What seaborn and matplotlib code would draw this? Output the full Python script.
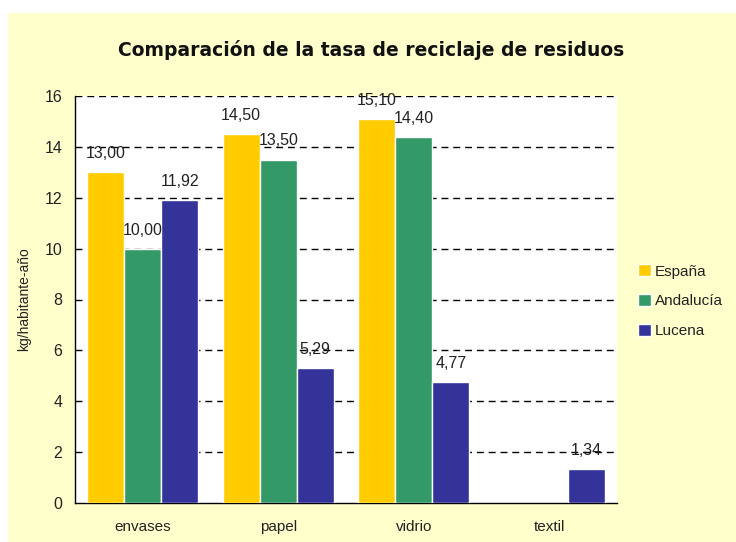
import matplotlib
matplotlib.use("Agg")
import matplotlib.pyplot as plt
import seaborn as sns
import pandas as pd
import numpy as np
from matplotlib.patches import Rectangle

categories = ["envases", "papel", "vidrio", "textil"]
series = ["España", "Andalucía", "Lucena"]
espana = [13.00, 14.50, 15.10, np.nan]
andalucia = [10.00, 13.50, 14.40, np.nan]
lucena = [11.92, 5.29, 4.77, 1.34]
colors = ["#FFCC00", "#339966", "#333399"]
yticks = [0, 2, 4, 6, 8, 10, 12, 14, 16]

rows = []
for s, vals in zip(series, [espana, andalucia, lucena]):
    for c, v in zip(categories, vals):
        rows.append({"cat": c, "serie": s, "valor": v})
df = pd.DataFrame(rows)

sns.set_theme(style="white")
plt.rcParams['font.family'] = ['Liberation Sans', 'DejaVu Sans']

fig = plt.figure(figsize=(7.36, 5.42), dpi=100)
fig.patch.set_facecolor("white")
fig.add_artist(Rectangle((8 / 736, 0), 1, 1 - 13 / 542, transform=fig.transFigure,
                         facecolor="#FFFFCC", edgecolor="none", zorder=-10))

ax = fig.add_axes([75 / 736, 1 - 503 / 542, (617 - 75) / 736, (503 - 96) / 542])
ax.set_facecolor("white")

sns.barplot(data=df, x="cat", y="valor", hue="serie", order=categories, hue_order=series,
            palette=colors, saturation=1, width=0.82, edgecolor="white", linewidth=1.0,
            errorbar=None, ax=ax, zorder=3)

ax.set_ylim(0, 16)
ax.set_xlim(-0.5, 3.5)
ax.set_yticks(yticks)
ax.set_yticklabels([str(t) for t in yticks], fontsize=11.5, color="#222222")
for y in yticks[1:]:
    ax.axhline(y, color="black", linestyle=(0, (5, 3.5)), linewidth=1.0, zorder=1)

ax.set_xticks([0, 1, 2, 3])
ax.set_xticklabels(categories, fontsize=11, color="#222222")
ax.tick_params(axis="x", length=0, pad=12)
ax.set_xticks([-0.5, 0.5, 1.5, 2.5, 3.5], minor=True)
ax.tick_params(axis="x", which="minor", length=5, width=1, color="black", direction="out")
ax.tick_params(axis="y", length=6, width=1, color="black", direction="out", pad=3)

for sp in ["top", "right"]:
    ax.spines[sp].set_visible(False)
for sp in ["left", "bottom"]:
    ax.spines[sp].set_color("black")
    ax.spines[sp].set_linewidth(1.0)

ax.set_xlabel("")
ax.set_ylabel("kg/habitante-año", fontsize=10, color="#222222", labelpad=10)

for cont in ax.containers:
    for bar in cont:
        h = bar.get_height()
        if h is None or np.isnan(h) or h == 0:
            continue
        ax.annotate(f"{h:.2f}".replace(".", ","),
                    (bar.get_x() + bar.get_width() / 2, h),
                    xytext=(0, 8), textcoords="offset points",
                    ha="center", va="bottom", fontsize=11.5, color="#222222",
                    zorder=5, annotation_clip=False)

leg = ax.legend(loc="center left", bbox_to_anchor=(1.013, 0.496), frameon=False,
                fontsize=11, handlelength=0.85, handleheight=0.85, handletextpad=0.25,
                labelspacing=1.0)
for t in leg.get_texts():
    t.set_color("#222222")

fig.text(371 / 736, 1 - 50 / 542, "Comparación de la tasa de reciclaje de residuos",
         ha="center", va="center", fontsize=13.5, fontweight="bold",
         family="DejaVu Sans", color="#111111")

fig.savefig("out.png", dpi=100, facecolor=fig.get_facecolor())
